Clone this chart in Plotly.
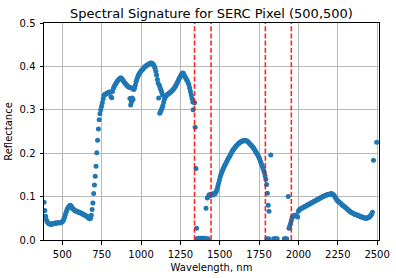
import plotly.graph_objects as go

# ---- data ----
wavelength_nm = [
    384, 389, 394, 399, 404, 409, 414, 419, 424, 429, 434, 439, 444, 449, 454, 459, 464, 469, 474, 479, 484, 489, 494, 499,
    504, 509, 514, 519, 524, 529, 534, 539, 544, 549, 554, 559, 564, 569, 574, 579, 584, 589, 594, 599, 604, 609, 614, 619,
    624, 629, 634, 639, 644, 649, 654, 659, 664, 669, 674, 679, 684,
    689, 694, 699, 704, 709, 714, 719, 724, 729, 734, 739, 744, 749, 754, 759, 764,
    769, 774, 779, 784, 789, 794, 799, 804, 809, 814, 819, 824, 829, 834, 839, 844, 849, 854, 859, 864, 869, 874, 879,
    884, 889, 894, 899, 904, 909, 914, 919, 924, 929, 932, 934, 939, 942, 944, 949, 950, 954, 959, 964, 969, 974, 979,
    984, 989, 994, 999, 1004, 1009, 1014, 1019, 1024, 1029, 1034, 1039, 1044, 1049, 1054, 1059, 1064, 1069, 1074,
    1079, 1084, 1089, 1094, 1099, 1104, 1109, 1112, 1117, 1119, 1122, 1124, 1127, 1129, 1132, 1134, 1137, 1139, 1144,
    1149, 1154, 1159, 1164, 1169, 1174, 1179, 1184, 1189, 1194, 1199, 1204, 1209, 1214, 1219, 1224, 1229, 1234, 1239,
    1244, 1249, 1254, 1259, 1264, 1269, 1274, 1279, 1284, 1289, 1294, 1299, 1304, 1309, 1314, 1319, 1324, 1329, 1331,
    1340, 1344, 1349, 1353, 1358, 1363, 1368, 1373, 1378, 1383, 1388, 1393, 1398, 1403, 1408, 1413, 1421, 1425,
    1428, 1433, 1438, 1443, 1448, 1453, 1458, 1463, 1468, 1473, 1478, 1483, 1488, 1493, 1498, 1503, 1508, 1513, 1518,
    1523, 1528, 1533, 1538, 1543, 1548, 1553, 1558, 1563, 1568, 1573, 1578, 1583, 1588, 1593, 1598, 1603, 1608, 1613,
    1618, 1623, 1628, 1633, 1638, 1643, 1648, 1653, 1658, 1663, 1668, 1673, 1678, 1683, 1688, 1693, 1698, 1703, 1708,
    1713, 1718, 1723, 1728, 1733, 1738, 1743, 1748, 1753, 1758, 1763, 1768, 1773, 1778, 1783, 1788, 1793, 1798, 1800,
    1803, 1808, 1812, 1813, 1824, 1843, 1850, 1858, 1865, 1910, 1918, 1926,
    1935, 1940, 1945, 1950, 1955, 1960, 1965, 1970, 1975, 1980, 1985, 1990, 1995, 2000, 2005, 2010, 2015, 2020, 2025,
    2030, 2035, 2040, 2045, 2050, 2055, 2060, 2065, 2070, 2075, 2080, 2085, 2090, 2095, 2100, 2105, 2110, 2115, 2120,
    2125, 2130, 2135, 2140, 2145, 2150, 2155, 2160, 2165, 2170, 2175, 2180, 2185, 2190, 2195, 2200, 2205, 2210, 2215,
    2220, 2225, 2230, 2235, 2240, 2245, 2250, 2255, 2260, 2265, 2270, 2275, 2280, 2285, 2290, 2295, 2300, 2305, 2310,
    2315, 2320, 2325, 2330, 2335, 2340, 2345, 2350, 2355, 2360, 2365, 2370, 2375, 2380, 2385, 2390, 2395, 2400, 2405,
    2410, 2415, 2420, 2425, 2430, 2435, 2440, 2445, 2450, 2455, 2460, 2465, 2470, 2477, 2497,
]

reflectance = [
    0.087, 0.068, 0.055, 0.046, 0.042, 0.040, 0.038, 0.037, 0.037, 0.036, 0.037, 0.037, 0.038, 0.038, 0.039, 0.039, 0.039, 0.039, 0.040, 0.040, 0.040, 0.040, 0.041, 0.042,
    0.044, 0.048, 0.053, 0.058, 0.064, 0.069, 0.073, 0.076, 0.078, 0.080, 0.079, 0.077, 0.073, 0.071, 0.070, 0.068, 0.067, 0.066, 0.066, 0.065, 0.064, 0.063, 0.063, 0.062,
    0.061, 0.060, 0.059, 0.058, 0.057, 0.056, 0.055, 0.054, 0.052, 0.050, 0.049, 0.050, 0.057,
    0.070, 0.085, 0.107, 0.127, 0.147, 0.170, 0.201, 0.230, 0.256, 0.277, 0.291, 0.300, 0.308, 0.316, 0.325, 0.333,
    0.335, 0.336, 0.337, 0.338, 0.339, 0.340, 0.341, 0.341, 0.330, 0.328, 0.342, 0.349, 0.353, 0.357, 0.360, 0.363, 0.366, 0.368, 0.370, 0.372, 0.373, 0.373, 0.371,
    0.369, 0.366, 0.363, 0.361, 0.359, 0.357, 0.355, 0.353, 0.352, 0.326, 0.351, 0.311, 0.318, 0.350, 0.327, 0.324, 0.348, 0.347, 0.350, 0.357, 0.365, 0.371, 0.376,
    0.380, 0.383, 0.386, 0.389, 0.391, 0.393, 0.395, 0.397, 0.399, 0.400, 0.402, 0.403, 0.404, 0.405, 0.406, 0.407, 0.408, 0.407, 0.406,
    0.404, 0.401, 0.396, 0.389, 0.380, 0.370, 0.361, 0.327, 0.356, 0.292, 0.350, 0.296, 0.345, 0.300, 0.340, 0.305, 0.334, 0.310, 0.318,
    0.325, 0.329, 0.332, 0.334, 0.336, 0.337, 0.338, 0.340, 0.341, 0.343, 0.345, 0.347, 0.349, 0.352, 0.355, 0.358, 0.362, 0.366, 0.369,
    0.373, 0.376, 0.380, 0.383, 0.385, 0.384, 0.380, 0.376, 0.373, 0.370, 0.367, 0.363, 0.358, 0.350, 0.342, 0.334, 0.326, 0.318, 0.300,
    0.316, 0.260, 0.165, 0.027, 0.003, 0.004, 0.003, 0.003, 0.004, 0.003, 0.003, 0.004, 0.003, 0.003, 0.004, 0.073, 0.097, 0.003,
    0.100, 0.104, 0.102, 0.105, 0.103, 0.106, 0.104, 0.107, 0.106, 0.109, 0.112, 0.117, 0.124, 0.131, 0.138, 0.145, 0.151, 0.156, 0.161,
    0.165, 0.169, 0.173, 0.176, 0.180, 0.183, 0.187, 0.190, 0.193, 0.197, 0.200, 0.204, 0.207, 0.209, 0.211, 0.214, 0.216, 0.218, 0.220,
    0.222, 0.223, 0.225, 0.226, 0.227, 0.228, 0.228, 0.229, 0.229, 0.229, 0.228, 0.228, 0.227, 0.225, 0.223, 0.221, 0.219, 0.217, 0.215,
    0.213, 0.210, 0.207, 0.204, 0.201, 0.198, 0.195, 0.191, 0.187, 0.182, 0.177, 0.172, 0.167, 0.162, 0.156, 0.148, 0.140, 0.128, 0.003,
    0.108, 0.080, 0.003, 0.066, 0.196, 0.003, 0.003, 0.003, 0.003, 0.003, 0.003, 0.003,
    0.100, 0.027, 0.032, 0.038, 0.045, 0.051, 0.055, 0.056, 0.057, 0.057, 0.057, 0.055, 0.053, 0.066, 0.069, 0.071, 0.072, 0.073, 0.074,
    0.075, 0.076, 0.077, 0.078, 0.079, 0.080, 0.081, 0.082, 0.083, 0.084, 0.085, 0.086, 0.087, 0.088, 0.089, 0.090, 0.091, 0.092, 0.093,
    0.094, 0.095, 0.096, 0.097, 0.098, 0.099, 0.100, 0.101, 0.102, 0.102, 0.103, 0.104, 0.104, 0.105, 0.105, 0.106, 0.106, 0.107, 0.106,
    0.105, 0.103, 0.101, 0.098, 0.095, 0.092, 0.090, 0.088, 0.087, 0.085, 0.084, 0.082, 0.080, 0.079, 0.078, 0.076, 0.075, 0.073, 0.071,
    0.070, 0.068, 0.066, 0.065, 0.064, 0.063, 0.062, 0.061, 0.060, 0.059, 0.059, 0.058, 0.057, 0.056, 0.056, 0.055, 0.054, 0.053, 0.053,
    0.052, 0.051, 0.051, 0.050, 0.050, 0.050, 0.051, 0.052, 0.053, 0.055, 0.057, 0.060, 0.064, 0.184, 0.225,
]

bad_band_edges_nm = [1340, 1445, 1790, 1955]
x_ticks = [500, 750, 1000, 1250, 1500, 1750, 2000, 2250, 2500]
y_ticks = [0.0, 0.1, 0.2, 0.3, 0.4, 0.5]
x_range = [383.5, 2512]
y_range = [0.0, 0.5]

FONT = "DejaVu Sans"
TICK_SIZE = 10

fig = go.Figure()
fig.add_trace(go.Scatter(
    x=wavelength_nm, y=reflectance, mode="markers",
    marker=dict(size=5, color="#1f77b4", line=dict(width=0)),
    cliponaxis=True, showlegend=False,
))

for w in bad_band_edges_nm:
    fig.add_shape(type="line", xref="x", yref="paper", x0=w, x1=w, y0=0, y1=1,
                  line=dict(color="rgba(255,0,0,0.85)", width=1.6, dash="5px,2.2px"))

axis_common = dict(
    showgrid=True, gridcolor="#b9b9b9", gridwidth=0.8,
    showline=True, mirror=True, linecolor="black", linewidth=1,
    ticks="outside", ticklen=3.5, tickwidth=0.9, tickcolor="black",
    tickfont=dict(family=FONT, size=TICK_SIZE, color="black"),
    zeroline=False, automargin=False,
)

fig.update_layout(
    width=396, height=278,
    margin=dict(l=44, r=17, t=23, b=38),
    plot_bgcolor="white", paper_bgcolor="white",
    font=dict(family=FONT, color="black"),
    title=dict(text="Spectral Signature for SERC Pixel (500,500)",
               x=0.5, xref="paper", xanchor="center",
               y=1 - 13 / 278, yref="container", yanchor="middle",
               font=dict(family=FONT, size=13, color="black")),
    xaxis=dict(range=x_range, tickvals=x_ticks, ticklabelstandoff=1,
               title=dict(text="Wavelength, nm", font=dict(family=FONT, size=TICK_SIZE), standoff=5),
               **axis_common),
    yaxis=dict(range=y_range, tickvals=y_ticks, tickformat=".1f", ticklabelstandoff=2,
               title=dict(text="Reflectance", font=dict(family=FONT, size=TICK_SIZE), standoff=5),
               **axis_common),
)

fig.write_html("out.html")
